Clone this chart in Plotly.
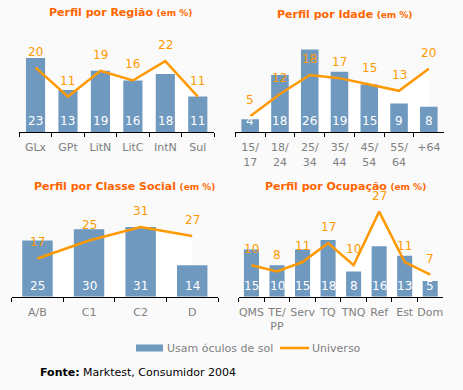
import plotly.graph_objects as go

# ---------------- data ----------------
regiao_cats = ["GLx", "GPt", "LitN", "LitC", "IntN", "Sul"]
regiao_usam = [23, 13, 19, 16, 18, 11]
regiao_univ = [20, 11, 19, 16, 22, 11]

idade_cats = ["15/<br>17", "18/<br>24", "25/<br>34", "35/<br>44", "45/<br>54", "55/<br>64", "+64"]
idade_usam = [4, 18, 26, 19, 15, 9, 8]
idade_univ = [5, 12, 18, 17, 15, 13, 20]

classe_cats = ["A/B", "C1", "C2", "D"]
classe_usam = [25, 30, 31, 14]
classe_univ = [17, 25, 31, 27]

ocup_cats = ["QMS", "TE/<br>PP", "Serv", "TQ", "TNQ", "Ref", "Est", "Dom"]
ocup_usam = [15, 10, 15, 18, 8, 16, 13, 5]
ocup_univ = [10, 8, 11, 17, 10, 27, 11, 7]

titles = ["Perfil por Região", "Perfil por Idade", "Perfil por Classe Social", "Perfil por Ocupação"]
legend_bar = "Usam óculos de sol"
legend_line = "Universo"
source_bold = "Fonte:"
source_text = " Marktest, Consumidor 2004"

# ---------------- style ----------------
W, H = 463, 390
FONT = "DejaVu Sans"
BAR_C = "#7099BF"
LINE_C = "#FF9900"
TITLE_C = "#FF6600"
TICK_C = "#808080"
BG = "#FAFAFA"

panels = [
    dict(cats=regiao_cats, usam=regiao_usam, univ=regiao_univ, x=(19.3, 214.0), y=(36, 132), rng=29.8,
         title_xy=(120, 13)),
    dict(cats=idade_cats, usam=idade_usam, univ=idade_univ, x=(235.3, 443.7), y=(36, 132), rng=30.3,
         title_xy=(344.5, 15)),
    dict(cats=classe_cats, usam=classe_usam, univ=classe_univ, x=(11.7, 218.0), y=(205, 296.7), rng=40.8,
         title_xy=(124, 186)),
    dict(cats=ocup_cats, usam=ocup_usam, univ=ocup_univ, x=(238.7, 443.0), y=(205, 296.7), rng=29.1,
         title_xy=(345, 186)),
]

fig = go.Figure()
layout = dict(
    width=W, height=H, margin=dict(l=0, r=0, t=0, b=0),
    paper_bgcolor=BG, plot_bgcolor=BG, showlegend=False,
    font=dict(family=FONT, size=12, color=TICK_C),
    bargap=0.41,
)
annotations = []
shapes = []

for i, p in enumerate(panels):
    k = i + 1
    xa = "x" if k == 1 else f"x{k}"
    ya = "y" if k == 1 else f"y{k}"
    ya2 = f"y{k + 4}"
    n = len(p["cats"])
    xd = [p["x"][0] / W, p["x"][1] / W]
    yd = [1 - p["y"][1] / H, 1 - p["y"][0] / H]

    layout[f"xaxis{'' if k == 1 else k}"] = dict(
        domain=xd, anchor=ya, type="category", range=[-0.5, n - 0.5],
        showline=True, linecolor="black", linewidth=1, ticks="outside", ticklen=4,
        tickcolor="black", tickson="boundaries", showgrid=False, zeroline=False,
        tickangle=0, automargin=False, ticklabelstandoff=5,
        tickfont=dict(family=FONT, size=11, color=TICK_C), fixedrange=True,
    )
    layout[f"yaxis{'' if k == 1 else k}"] = dict(
        domain=yd, anchor=xa, range=[0, p["rng"]], visible=False, fixedrange=True,
    )
    layout[f"yaxis{k + 4}"] = dict(
        domain=yd, anchor=xa, overlaying=ya, range=[0, p["rng"]], visible=False, fixedrange=True,
    )

    # white area below the Universo line (drawn on the lower subplot)
    fig.add_trace(go.Scatter(
        x=p["cats"], y=p["univ"], xaxis=xa, yaxis=ya, mode="lines",
        line=dict(width=0, color="white"), fill="tozeroy", fillcolor="white",
        hoverinfo="skip",
    ))
    fig.add_trace(go.Bar(
        x=p["cats"], y=p["usam"], xaxis=xa, yaxis=ya2, marker=dict(color=BAR_C, line=dict(width=0)),
        name=legend_bar,
    ))
    fig.add_trace(go.Scatter(
        x=p["cats"], y=p["univ"], xaxis=xa, yaxis=ya2, mode="lines",
        line=dict(color=LINE_C, width=2.5), name=legend_line,
    ))

    for j, v in enumerate(p["usam"]):
        annotations.append(dict(x=j, y=0, xref=xa, yref=ya2, text=str(v), showarrow=False,
                                yshift=11, yanchor="middle",
                                font=dict(family=FONT, size=12, color="white")))
    for j, v in enumerate(p["univ"]):
        annotations.append(dict(x=j, y=v, xref=xa, yref=ya2, text=str(v), showarrow=False,
                                yshift=16, yanchor="middle",
                                font=dict(family=FONT, size=12, color=LINE_C)))

    tx, ty = p["title_xy"]
    annotations.append(dict(
        x=tx / W, y=1 - ty / H, xref="paper", yref="paper", xanchor="center", yanchor="middle",
        showarrow=False,
        text=f"<b>{titles[i]}</b> <b><span style='font-size:9px'>(em %)</span></b>",
        font=dict(family=FONT, size=11, color=TITLE_C),
    ))

# manual legend
ly = 348
shapes.append(dict(type="rect", xref="paper", yref="paper",
                   x0=136 / W, x1=163 / W, y0=1 - (ly + 3.5) / H, y1=1 - (ly - 3.5) / H,
                   fillcolor=BAR_C, line=dict(width=0)))
annotations.append(dict(x=165 / W, y=1 - ly / H, xref="paper", yref="paper", xanchor="left",
                        yanchor="middle", showarrow=False, text=legend_bar,
                        font=dict(family=FONT, size=11, color=TICK_C)))
shapes.append(dict(type="line", xref="paper", yref="paper",
                   x0=280 / W, x1=309 / W, y0=1 - ly / H, y1=1 - ly / H,
                   line=dict(color=LINE_C, width=2.5)))
annotations.append(dict(x=310 / W, y=1 - ly / H, xref="paper", yref="paper", xanchor="left",
                        yanchor="middle", showarrow=False, text=legend_line,
                        font=dict(family=FONT, size=11, color=TICK_C)))

# source
annotations.append(dict(x=38 / W, y=1 - 372 / H, xref="paper", yref="paper", xanchor="left",
                        yanchor="middle", showarrow=False,
                        text=f"<b>{source_bold}</b>{source_text}",
                        font=dict(family=FONT, size=11, color="black")))

layout["annotations"] = annotations
layout["shapes"] = shapes
fig.update_layout(**layout)
fig.write_html(
    "out.html",
    config={"displayModeBar": False},
    post_script="document.body.style.margin='0';document.body.style.overflow='hidden';",
)
